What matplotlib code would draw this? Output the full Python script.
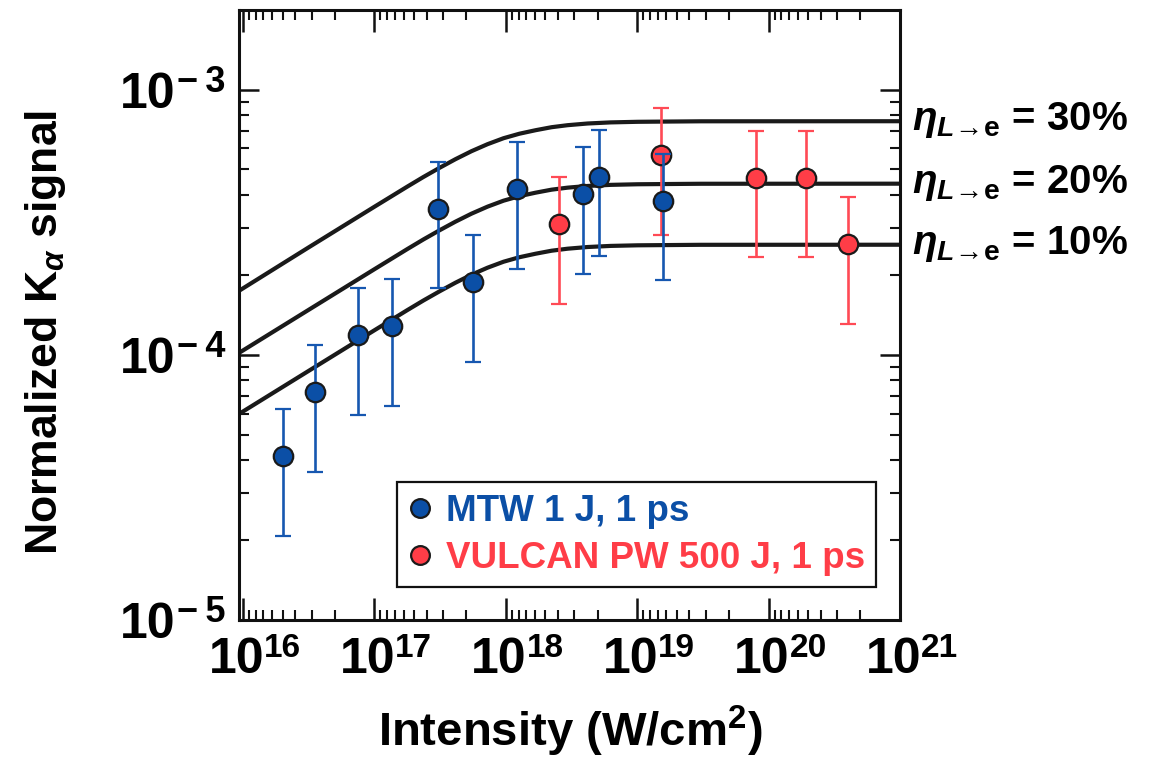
import numpy as np
import matplotlib
matplotlib.use("Agg")
import matplotlib.pyplot as plt
from matplotlib.ticker import FixedLocator, NullFormatter
from matplotlib.lines import Line2D
import matplotlib.transforms as mtransforms

plt.rcParams['font.family'] = ['Liberation Sans', 'DejaVu Sans']
plt.rcParams['font.weight'] = 'bold'
plt.rcParams['mathtext.fontset'] = 'custom'
plt.rcParams['mathtext.rm'] = 'Liberation Sans:bold'
plt.rcParams['mathtext.bf'] = 'Liberation Sans:bold'
plt.rcParams['mathtext.it'] = 'Liberation Sans:bold:italic'
plt.rcParams['mathtext.sf'] = 'Liberation Sans:bold'

# ---------------- data ----------------
mtw_I = [2.0e16, 3.56e16, 7.55e16, 1.37e17, 3.07e17, 5.67e17, 1.21e18, 3.9e18, 5.08e18, 1.56e19]
mtw_K = [4.16e-5, 7.24e-5, 1.19e-4, 1.285e-4, 3.56e-4, 1.88e-4, 4.23e-4, 4.05e-4, 4.70e-4, 3.81e-4]
mtw_err = [2.08e-5, 3.62e-5, 5.95e-5, 6.43e-5, 1.78e-4, 9.4e-5, 2.12e-4, 2.03e-4, 2.35e-4, 1.9e-4]

vulcan_I = [2.56e18, 1.53e19, 7.98e19, 1.92e20, 4.0e20]
vulcan_K = [3.12e-4, 5.69e-4, 4.66e-4, 4.66e-4, 2.62e-4]
vulcan_err = [1.56e-4, 2.85e-4, 2.33e-4, 2.33e-4, 1.31e-4]

model_I = [9.38e15, 3.14e16, 1.0e17, 1.78e17, 2.36e17, 3.13e17, 4.14e17, 5.48e17, 7.26e17,
           9.62e17, 1.27e18, 1.69e18, 2.23e18, 2.95e18, 4.19e18, 6.28e18, 1.01e19, 3.04e19, 1.0e21]
model_30 = [1.745e-4, 2.535e-4, 3.614e-4, 4.305e-4, 4.680e-4, 5.067e-4, 5.463e-4, 5.855e-4, 6.223e-4,
            6.555e-4, 6.816e-4, 7.028e-4, 7.212e-4, 7.339e-4, 7.448e-4, 7.520e-4, 7.559e-4, 7.592e-4, 7.597e-4]
model_20 = [1.018e-4, 1.474e-4, 2.101e-4, 2.503e-4, 2.721e-4, 2.946e-4, 3.176e-4, 3.404e-4, 3.618e-4,
            3.811e-4, 3.963e-4, 4.086e-4, 4.193e-4, 4.267e-4, 4.330e-4, 4.372e-4, 4.395e-4, 4.414e-4, 4.417e-4]
model_10 = [5.992e-5, 8.676e-5, 1.2367e-4, 1.4733e-4, 1.6016e-4, 1.734e-4, 1.8694e-4, 2.0036e-4, 2.1296e-4,
            2.2432e-4, 2.3326e-4, 2.405e-4, 2.468e-4, 2.5116e-4, 2.5486e-4, 2.5734e-4, 2.5869e-4, 2.5981e-4, 2.5998e-4]
model_labels = ['30%', '20%', '10%']

x_ticks = [1e16, 1e17, 1e18, 1e19, 1e20, 1e21]
x_exponents = ['16', '17', '18', '19', '20', '21']
y_ticks = [1e-5, 1e-4, 1e-3]
y_exponents = ['\u2212\u20095', '\u2212\u20094', '\u2212\u20093']

blue = '#0b4fa6'
blue_bar = '#1657b0'
red = '#ff3d47'
red_bar = '#ff4a55'
edge = '#1a1a1a'

# ---------------- figure ----------------
fig = plt.figure(figsize=(11.59, 7.6), dpi=100)
ax = fig.add_axes([239/1159, 1-620/760, (900-239)/1159, (620-10)/760])
ax.set_xscale('log')
ax.set_yscale('log')
ax.set_xlim(10**15.97, 1e21)
ax.set_ylim(1e-5, 10**-2.7)

for ys in (model_30, model_20, model_10):
    ax.plot(model_I, ys, color='#1a1a1a', lw=3.0, zorder=2, solid_capstyle='butt',
            solid_joinstyle='round')

ax.errorbar(vulcan_I, vulcan_K, yerr=vulcan_err, fmt='o', ms=14, mfc=red, mec=edge, mew=1.6,
            ecolor=red_bar, elinewidth=1.9, capsize=5.5, capthick=1.9, zorder=3)
ax.errorbar(mtw_I, mtw_K, yerr=mtw_err, fmt='o', ms=14, mfc=blue, mec=edge, mew=1.6,
            ecolor=blue_bar, elinewidth=1.9, capsize=5.5, capthick=1.9, zorder=4)

# ticks
ax.xaxis.set_major_locator(FixedLocator(x_ticks))
ax.xaxis.set_major_formatter(NullFormatter())
minor_x = []
for a in range(16, 21):
    for k in range(2, 10):
        minor_x.append(10.0**(a+1) / k)
ax.xaxis.set_minor_locator(FixedLocator(minor_x))
ax.xaxis.set_minor_formatter(NullFormatter())
ax.yaxis.set_major_locator(FixedLocator(y_ticks))
ax.yaxis.set_major_formatter(NullFormatter())
minor_y = [k * 10.0**a for a in range(-5, -2) for k in range(2, 10)]
ax.yaxis.set_minor_locator(FixedLocator(minor_y))
ax.yaxis.set_minor_formatter(NullFormatter())

ax.tick_params(which='both', direction='in', top=True, right=True, colors='#111111')
ax.tick_params(axis='x', which='major', length=15.5, width=1.8)
ax.tick_params(axis='y', which='major', length=14.5, width=1.8)
ax.tick_params(which='minor', length=7, width=1.5)
for s in ax.spines.values():
    s.set_linewidth(2.2)
    s.set_color('#111111')

def px(dx, dy):
    return mtransforms.ScaledTranslation(dx/100, dy/100, fig.dpi_scale_trans)

# manual tick labels (base + exponent)
xt = mtransforms.blended_transform_factory(ax.transData, ax.transAxes)
for v, e in zip(x_ticks, x_exponents):
    ax.text(v, 0, '10', transform=xt + px(21, -53), ha='right', va='baseline',
            fontsize=36, fontweight='bold', clip_on=False)
    ax.text(v, 0, e, transform=xt + px(21, -37), ha='left', va='baseline',
            fontsize=24, fontweight='bold', clip_on=False)
yt = mtransforms.blended_transform_factory(ax.transAxes, ax.transData)
for v, e in zip(y_ticks, y_exponents):
    ax.text(0, v, '10', transform=yt + px(-64, -18), ha='right', va='baseline',
            fontsize=36, fontweight='bold', clip_on=False)
    ax.text(0, v, e, transform=yt + px(-62, -2), ha='left', va='baseline',
            fontsize=26, fontweight='bold', clip_on=False)

# axis labels
fig.text(46/1159, 1-332/760, r'Normalized K$_\alpha$ signal', fontsize=32,
         fontweight='bold', rotation=90, ha='center', va='center')
fig.text(570/1159, 1-746/760, r'Intensity (W/cm$^{\mathbf{2}}$)', fontsize=34,
         fontweight='bold', ha='center', va='baseline')

# right-hand annotations
trans = mtransforms.blended_transform_factory(ax.transAxes, ax.transData)
for ys, lab in zip((model_30, model_20, model_10), model_labels):
    yb = ys[-1] * 10**(-9/265)
    ax.text(1.018, yb, r'$\eta_{L\!\rightarrow\!\mathrm{e}}$ = ' + lab, transform=trans,
            fontsize=29, fontweight='bold', ha='left', va='baseline', clip_on=False)

# legend
handles = [Line2D([], [], ls='none', marker='o', ms=13.5, mfc=blue, mec=edge, mew=1.6),
           Line2D([], [], ls='none', marker='o', ms=13.5, mfc=red, mec=edge, mew=1.6)]
leg = ax.legend(handles, ['MTW 1 J, 1 ps', 'VULCAN PW 500 J, 1 ps'],
                loc='upper left', bbox_to_anchor=((397-239)/661, (620-482)/610),
                borderaxespad=0, frameon=True, fancybox=False, framealpha=1,
                edgecolor='#111111', prop={'weight': 'bold', 'size': 26.5},
                handlelength=0.6, handletextpad=0.4, borderpad=0.32, labelspacing=0.32)
leg.get_frame().set_linewidth(1.6)
for t, c in zip(leg.get_texts(), [blue, red]):
    t.set_color(c)

fig.savefig('out.png', dpi=100)
